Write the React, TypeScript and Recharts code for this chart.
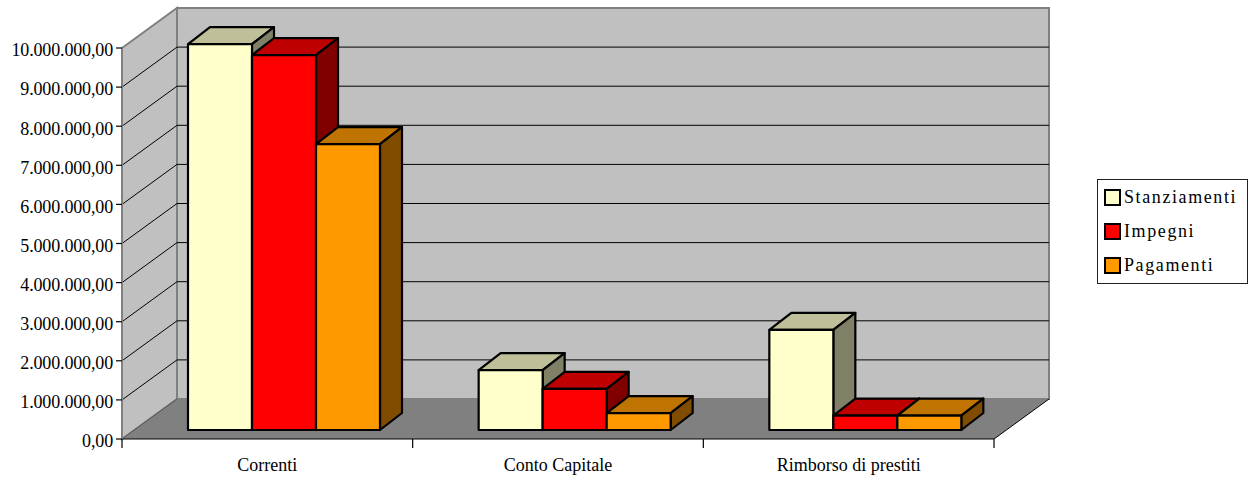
import React from "react";
import { BarChart, Bar, XAxis, YAxis, CartesianGrid, ReferenceArea, Legend } from "recharts";

const categories = ["Correnti", "Conto Capitale", "Rimborso di prestiti"];
const stanziamenti = [9870000, 1530000, 2560000];
const impegni = [9590000, 1050000, 370000];
const pagamenti = [7310000, 430000, 370000];
const yTicks = [0, 1000000, 2000000, 3000000, 4000000, 5000000, 6000000, 7000000, 8000000, 9000000, 10000000];
const seriesNames = ["Stanziamenti", "Impegni", "Pagamenti"];
const seriesColors = ["#FFFFCC", "#FF0000", "#FF9900"];
const topColors = ["#BFBF99", "#BF0000", "#BF7300"];
const sideColors = ["#808066", "#800000", "#804D00"];

const rows = categories.map((name, i) => ({
  name,
  Stanziamenti: stanziamenti[i],
  Impegni: impegni[i],
  Pagamenti: pagamenti[i],
}));

const FONT = "'Liberation Serif', 'Times New Roman', serif";
const WALL_DX = 55;
const WALL_DY = 40;
const BAR_SHIFT_X = 17;
const BAR_SHIFT_Y = 9;
const BAR_DX = 22;
const BAR_DY = 17;

const formatIt = (v: number) => {
  const whole = String(Math.round(v)).replace(/\B(?=(\d{3})+(?!\d))/g, ".");
  return whole + ",00";
};

const Walls = (props: any) => {
  const { x, y, width, height } = props;
  const b = y + height;
  const r = x + width;
  const ticks = categories.map((_, i) => x + (width * i) / categories.length).concat(r);
  return (
    <g>
      <rect x={x + WALL_DX} y={y - WALL_DY} width={width} height={height} fill="#C0C0C0" stroke="#808080" strokeWidth={2} />
      <polygon
        points={`${x},${y} ${x + WALL_DX},${y - WALL_DY} ${x + WALL_DX},${b - WALL_DY} ${x},${b}`}
        fill="#C0C0C0"
        stroke="#808080"
        strokeWidth={2}
      />
      <polygon
        points={`${x},${b} ${x + WALL_DX},${b - WALL_DY} ${r + WALL_DX},${b - WALL_DY} ${r},${b}`}
        fill="#808080"
      />
      <line x1={r} y1={b} x2={r + WALL_DX} y2={b - WALL_DY} stroke="#000" strokeWidth={1} />
      {ticks.map((t) => (
        <line key={t} x1={t} y1={b} x2={t} y2={b + 9} stroke="#000" strokeWidth={1.2} />
      ))}
    </g>
  );
};

const GridLine = (props: any) => {
  const { x1, x2, y1, index } = props;
  const isZero = index === 0;
  const isTop = index === yTicks.length - 1;
  return (
    <g key={`g-${y1}`}>
      {!isZero && !isTop && (
        <line x1={x1 + WALL_DX} y1={y1 - WALL_DY} x2={x2 + WALL_DX} y2={y1 - WALL_DY} stroke="#000" strokeWidth={1} />
      )}
      {!isTop && (
        <line
          x1={x1}
          y1={y1}
          x2={x1 + WALL_DX}
          y2={y1 - WALL_DY}
          stroke={isZero ? "#555" : "#000"}
          strokeWidth={1}
        />
      )}
    </g>
  );
};

const makeBox = (si: number) => (props: any) => {
  const { x, y, width, height } = props;
  const fx = x + BAR_SHIFT_X;
  const fy = y - BAR_SHIFT_Y;
  const fr = fx + width;
  const fb = fy + height;
  const common = { stroke: "#000", strokeWidth: 2.2, strokeLinejoin: "round" as const };
  return (
    <g>
      <polygon
        points={`${fx},${fy} ${fx + BAR_DX},${fy - BAR_DY} ${fr + BAR_DX},${fy - BAR_DY} ${fr},${fy}`}
        fill={topColors[si]}
        {...common}
      />
      <polygon
        points={`${fr},${fy} ${fr + BAR_DX},${fy - BAR_DY} ${fr + BAR_DX},${fb - BAR_DY} ${fr},${fb}`}
        fill={sideColors[si]}
        {...common}
      />
      <rect x={fx} y={fy} width={width} height={height} fill={seriesColors[si]} {...common} />
    </g>
  );
};

const LegendBox = () => (
  <div
    style={{
      boxSizing: "border-box",
      width: 151,
      height: 105,
      border: "1px solid #222",
      background: "#fff",
      position: "relative",
      fontFamily: FONT,
      fontSize: 18,
      letterSpacing: 1.6,
      color: "#000",
    }}
  >
    {seriesNames.map((n, i) => (
      <div key={n} style={{ position: "absolute", left: 6, top: 8 + i * 34, height: 18, display: "flex", alignItems: "center", whiteSpace: "nowrap" }}>
        <span
          style={{
            display: "inline-block",
            boxSizing: "border-box",
            width: 17,
            height: 17,
            background: seriesColors[i],
            border: "2px solid #000",
            marginRight: 3,
          }}
        />
        {n}
      </div>
    ))}
  </div>
);

export default function App() {
  return (
    <div style={{ position: "absolute", left: 0, top: 0, width: 1255, height: 481, overflow: "hidden", background: "#fff" }}>
      <BarChart
        width={1255}
        height={481}
        data={rows}
        margin={{ top: 48, right: 261, bottom: 12, left: 0 }}
        barCategoryGap={49}
        barGap={0}
        style={{ fontFamily: FONT }}
      >
        <ReferenceArea y1={0} y2={10000000} shape={<Walls />} ifOverflow="visible" zIndex={-200} />
        <CartesianGrid vertical={false} horizontal={(p: any) => <GridLine {...p} />} syncWithTicks zIndex={-150} />
        <XAxis
          dataKey="name"
          height={30}
          axisLine={{ stroke: "#000", strokeWidth: 1.2 }}
          tickLine={false}
          tickMargin={13}
          tick={{ fill: "#000", fontSize: 18, fontFamily: FONT }}
          interval={0}
        />
        <YAxis
          width={122}
          domain={[0, 10000000]}
          ticks={yTicks}
          interval={0}
          tickFormatter={formatIt}
          axisLine={{ stroke: "#808080", strokeWidth: 2 }}
          tickLine={{ stroke: "#000", strokeWidth: 1.2 }}
          tickSize={6}
          tickMargin={3}
          tick={{ fill: "#000", fontSize: 18, letterSpacing: -0.15, fontFamily: FONT, dy: 2 }}
        />
        {seriesNames.map((n, i) => (
          <Bar key={n} dataKey={n} fill={seriesColors[i]} isAnimationActive={false} shape={makeBox(i)} />
        ))}
        <Legend
          layout="horizontal"
          verticalAlign="middle"
          content={<LegendBox />}
          wrapperStyle={{ position: "absolute", left: 1097, top: 179, width: 151, height: 105, margin: 0 }}
        />
      </BarChart>
    </div>
  );
}
